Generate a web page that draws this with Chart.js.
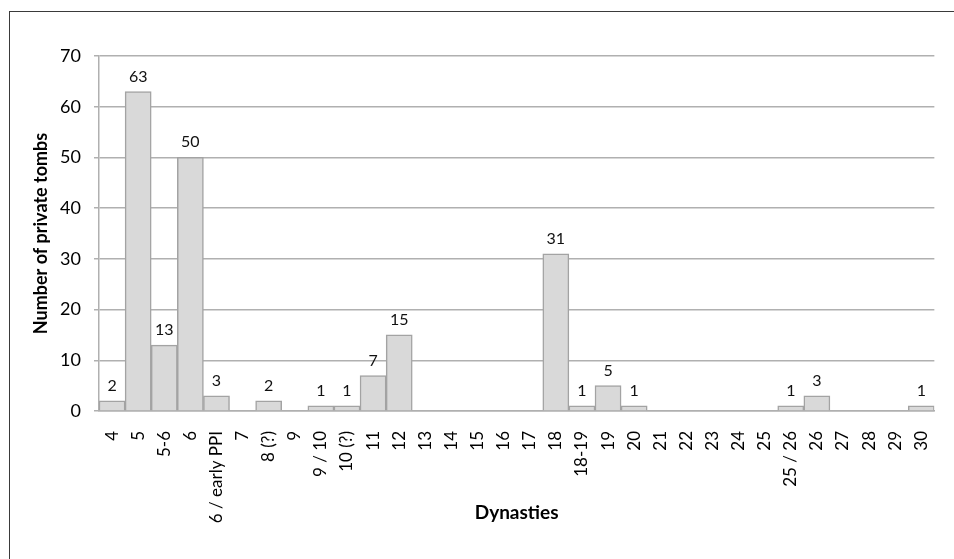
<!DOCTYPE html>
<html>
<head>
<meta charset="utf-8">
<script src="https://cdn.jsdelivr.net/npm/chart.js@4.4.0/dist/chart.umd.min.js"></script>
<style>
    body { margin: 0; background: #fff; overflow: hidden; }
    #wrap { position: relative; width: 954px; height: 559px; }
    #frame {
        position: absolute; left: 9px; top: 11px; width: 960px; height: 560px;
        border-left: 1.5px solid #3a3a3a; border-top: 1.5px solid #3a3a3a;
    }
    canvas { position: absolute; left: 0; top: 0; }
</style>
</head>
<body>
<div id="wrap">
    <div id="frame"></div>
    <canvas id="tombsChart" width="954" height="559"></canvas>
</div>
<script>
const dynasties = ['4', '5', '5-6', '6', '6 / early PPI', '7', '8 (?)', '9', '9 / 10', '10 (?)',
    '11', '12', '13', '14', '15', '16', '17', '18', '18-19', '19', '20', '21', '22', '23',
    '24', '25', '25 / 26', '26', '27', '28', '29', '30'];
const tombCounts = [2, 63, 13, 50, 3, 0, 2, 0, 1, 1,
    7, 15, 0, 0, 0, 0, 0, 31, 1, 5, 1, 0, 0, 0,
    0, 0, 1, 3, 0, 0, 0, 1];
const yTicks = [0, 10, 20, 30, 40, 50, 60, 70];

const fontFamily = 'Lato, "Open Sans", sans-serif';

// value labels above non-zero bars
const barLabels = {
    id: 'barLabels',
    afterDatasetsDraw(chart) {
        const ctx = chart.ctx;
        const meta = chart.getDatasetMeta(0);
        ctx.save();
        ctx.font = '16px ' + fontFamily;
        ctx.fillStyle = '#111';
        ctx.textAlign = 'center';
        ctx.textBaseline = 'alphabetic';
        meta.data.forEach((bar, i) => {
            const v = tombCounts[i];
            if (v > 0) {
                ctx.fillText(String(v), bar.x, bar.y - 10);
            }
        });
        ctx.restore();
    }
};

const ctx = document.getElementById('tombsChart').getContext('2d');
new Chart(ctx, {
    type: 'bar',
    data: {
        labels: dynasties,
        datasets: [{
            data: tombCounts,
            backgroundColor: '#d9d9d9',
            borderColor: '#a3a3a3',
            borderWidth: 1.5,
            barPercentage: 1,
            categoryPercentage: 1
        }]
    },
    options: {
        responsive: false,
        animation: false,
        layout: { padding: { left: 10, right: 19, top: 56, bottom: 0 } },
        plugins: {
            legend: { display: false },
            tooltip: { enabled: false }
        },
        scales: {
            x: {
                grid: { display: false },
                border: { display: true, color: '#b0b0b0', width: 1.5 },
                ticks: {
                    autoSkip: false,
                    minRotation: 90,
                    maxRotation: 90,
                    padding: 12,
                    color: '#000',
                    font: { family: fontFamily, size: 17 }
                },
                title: {
                    display: true,
                    text: 'Dynasties',
                    color: '#000',
                    font: { family: fontFamily, size: 19, weight: 'bold' },
                    padding: { top: 0, bottom: 35 }
                },
                afterFit(scale) { scale.height = 148; }
            },
            y: {
                min: 0,
                max: 70,
                afterBuildTicks(scale) { scale.ticks = yTicks.map(v => ({ value: v })); },
                grid: { color: '#b0b0b0', lineWidth: 1.5, tickLength: 5 },
                border: { display: true, color: '#b0b0b0', width: 1.5 },
                ticks: {
                    padding: 13,
                    color: '#000',
                    font: { family: fontFamily, size: 18 }
                },
                title: {
                    display: true,
                    text: 'Number of private tombs',
                    color: '#000',
                    font: { family: fontFamily, size: 18, weight: 'bold' },
                    padding: { top: 20, bottom: 0 }
                },
                afterFit(scale) { scale.width = 89; }
            }
        }
    },
    plugins: [barLabels]
});
</script>
</body>
</html>
